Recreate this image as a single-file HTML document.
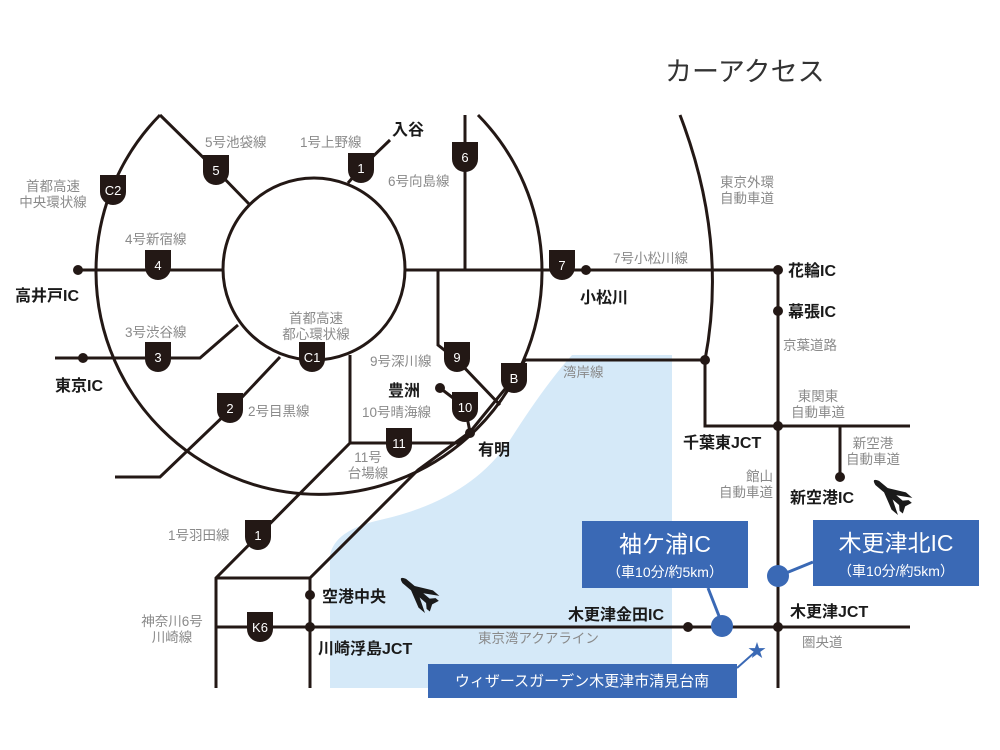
<!DOCTYPE html>
<html><head><meta charset="utf-8"><style>
html,body{margin:0;padding:0;background:#fff;}
svg{display:block;font-family:"Liberation Sans","Noto Sans CJK JP",sans-serif;}
.g{fill:#8a8a8a;font-size:13.5px;}
.k{fill:#1a1a1a;font-size:16px;font-weight:bold;}
.bt{fill:#fff;font-size:13px;text-anchor:middle;}
</style></head><body>
<svg width="1000" height="750" viewBox="0 0 1000 750" xmlns="http://www.w3.org/2000/svg">
<defs>
<path id="sh" d="M-13,-15 H13 V2 A13,13 0 0 1 -13,2 Z" fill="#231815"/>
<g id="plane"><path d="M-16,-8 L-10,-8 L2,-2 L10,-2 Q16,0 10,2 L2,2 L-10,8 L-16,8 L-6,2 L-12,2 L-15,5 L-18,5 L-16,0 L-18,-5 L-15,-5 L-12,-2 L-6,-2 Z" fill="#1a1a1a"/></g>
</defs>
<path d="M572,355 L672,355 L672,688 L330,688 L330,555 Q335,530 380,520 Q470,500 510,440 Q545,385 572,355 Z" fill="#d5e9f8"/>
<g stroke="#231815" stroke-width="3" fill="none">
<circle cx="314" cy="269" r="91"/>
<path d="M160,115 A223,223 0 1 0 478,115"/>
<path d="M680,115 Q728,240 705,360"/>
<polyline points="160,115 216,170 250,205"/>
<polyline points="348,183 361,168 390,140"/>
<line x1="465" y1="115" x2="465" y2="270"/>
<line x1="405" y1="270" x2="778" y2="270"/>
<line x1="778" y1="270" x2="778" y2="688"/>
<polyline points="438,270 438,345 457,360 500,405"/>
<polyline points="525,360 514,378 470,432 418,470 310,578 310,688"/>
<polyline points="525,360 705,360 705,426 910,426"/>
<polyline points="350,355 350,443 460,443 470,432"/>
<polyline points="440,388 465,407 470,432"/>
<polyline points="350,443 216,578 216,688"/>
<line x1="216" y1="578" x2="310" y2="578"/>
<line x1="216" y1="627" x2="910" y2="627"/>
<line x1="75" y1="270" x2="223" y2="270"/>
<polyline points="55,358 200,358 238,325"/>
<polyline points="280,357 230,410 160,477 115,477"/>
<line x1="840" y1="426" x2="840" y2="477"/>
<line x1="708" y1="588" x2="719" y2="616" stroke="#3a69b5"/>
<line x1="813" y1="562" x2="786" y2="573" stroke="#3a69b5"/>
<line x1="737" y1="668" x2="755" y2="652" stroke="#3a69b5" stroke-width="2"/>
</g>
<g fill="#231815">
<circle cx="78" cy="270" r="5"/><circle cx="83" cy="358" r="5"/>
<circle cx="586" cy="270" r="5"/><circle cx="778" cy="270" r="5"/>
<circle cx="778" cy="311" r="5"/><circle cx="705" cy="360" r="5"/>
<circle cx="778" cy="426" r="5"/><circle cx="840" cy="477" r="5"/>
<circle cx="778" cy="627" r="5"/><circle cx="688" cy="627" r="5"/>
<circle cx="440" cy="388" r="5"/><circle cx="470" cy="433" r="5"/>
<circle cx="310" cy="595" r="5"/><circle cx="310" cy="627" r="5"/>
</g>
<circle cx="778" cy="576" r="11" fill="#3a69b5"/>
<circle cx="722" cy="626" r="11" fill="#3a69b5"/>
<g>
<use href="#sh" x="216" y="170"/><text class="bt" x="216" y="175">5</text>
<use href="#sh" x="361" y="168"/><text class="bt" x="361" y="173">1</text>
<use href="#sh" x="465" y="157"/><text class="bt" x="465" y="162">6</text>
<use href="#sh" x="113" y="190"/><text class="bt" x="113" y="195">C2</text>
<use href="#sh" x="158" y="265"/><text class="bt" x="158" y="270">4</text>
<use href="#sh" x="158" y="357"/><text class="bt" x="158" y="362">3</text>
<use href="#sh" x="312" y="357"/><text class="bt" x="312" y="362">C1</text>
<use href="#sh" x="230" y="408"/><text class="bt" x="230" y="413">2</text>
<use href="#sh" x="562" y="265"/><text class="bt" x="562" y="270">7</text>
<use href="#sh" x="457" y="357"/><text class="bt" x="457" y="362">9</text>
<use href="#sh" x="514" y="378"/><text class="bt" x="514" y="383">B</text>
<use href="#sh" x="465" y="407"/><text class="bt" x="465" y="412">10</text>
<use href="#sh" x="399" y="443"/><text class="bt" x="399" y="448">11</text>
<use href="#sh" x="258" y="535"/><text class="bt" x="258" y="540">1</text>
<use href="#sh" x="260" y="627"/><text class="bt" x="260" y="632">K6</text>
</g>
<use href="#plane" transform="translate(888,492) rotate(-140) scale(1.4)"/>
<use href="#plane" transform="translate(415,590) rotate(-140) scale(1.4)"/>
<text x="665" y="81" style="font-size:27px;fill:#333">カーアクセス</text>
<g class="g">
<text x="205" y="147">5号池袋線</text>
<text x="300" y="147">1号上野線</text>
<text x="388" y="186">6号向島線</text>
<text x="53" y="191" text-anchor="middle">首都高速</text>
<text x="53" y="207" text-anchor="middle">中央環状線</text>
<text x="125" y="244">4号新宿線</text>
<text x="125" y="337">3号渋谷線</text>
<text x="316" y="323" text-anchor="middle">首都高速</text>
<text x="316" y="339" text-anchor="middle">都心環状線</text>
<text x="248" y="416">2号目黒線</text>
<text x="370" y="366">9号深川線</text>
<text x="362" y="417">10号晴海線</text>
<text x="368" y="462" text-anchor="middle">11号</text>
<text x="368" y="478" text-anchor="middle">台場線</text>
<text x="613" y="263">7号小松川線</text>
<text x="720" y="187">東京外環</text>
<text x="720" y="203">自動車道</text>
<text x="783" y="350">京葉道路</text>
<text x="563" y="377">湾岸線</text>
<text x="818" y="401" text-anchor="middle">東関東</text>
<text x="818" y="417" text-anchor="middle">自動車道</text>
<text x="873" y="448" text-anchor="middle">新空港</text>
<text x="873" y="464" text-anchor="middle">自動車道</text>
<text x="773" y="481" text-anchor="end">館山</text>
<text x="773" y="497" text-anchor="end">自動車道</text>
<text x="168" y="540">1号羽田線</text>
<text x="172" y="626" text-anchor="middle">神奈川6号</text>
<text x="172" y="642" text-anchor="middle">川崎線</text>
<text x="478" y="643">東京湾アクアライン</text>
<text x="802" y="647">圏央道</text>
</g>
<g class="k">
<text x="392" y="135">入谷</text>
<text x="15" y="301">高井戸IC</text>
<text x="55" y="391">東京IC</text>
<text x="388" y="396">豊洲</text>
<text x="478" y="455">有明</text>
<text x="580" y="303">小松川</text>
<text x="788" y="276">花輪IC</text>
<text x="788" y="317">幕張IC</text>
<text x="683" y="448">千葉東JCT</text>
<text x="790" y="503">新空港IC</text>
<text x="568" y="620">木更津金田IC</text>
<text x="790" y="617">木更津JCT</text>
<text x="322" y="602">空港中央</text>
<text x="318" y="654">川崎浮島JCT</text>
</g>
<rect x="582" y="521" width="166" height="67" fill="#3a69b5"/>
<text x="665" y="552" text-anchor="middle" style="fill:#fff;font-size:23px">袖ケ浦IC</text>
<text x="665" y="577" text-anchor="middle" style="fill:#fff;font-size:14px">（車10分/約5km）</text>
<rect x="813" y="520" width="166" height="66" fill="#3a69b5"/>
<text x="896" y="551" text-anchor="middle" style="fill:#fff;font-size:23px">木更津北IC</text>
<text x="896" y="576" text-anchor="middle" style="fill:#fff;font-size:14px">（車10分/約5km）</text>
<rect x="428" y="664" width="309" height="34" fill="#3a69b5"/>
<text x="582" y="686" text-anchor="middle" style="fill:#fff;font-size:15px">ウィザースガーデン木更津市清見台南</text>
<text x="757" y="657" text-anchor="middle" style="fill:#3a69b5;font-size:18px">★</text>
</svg>
</body></html>
